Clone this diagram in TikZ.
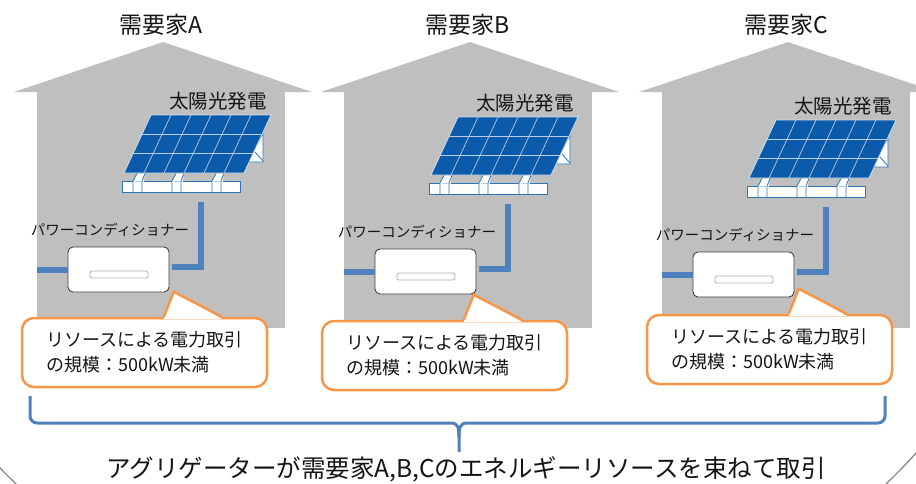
\documentclass[tikz,border=0pt]{standalone}
\usepackage{fontspec}
\setmainfont{Noto Sans CJK JP}
\usetikzlibrary{calc}

\definecolor{wallgray}{HTML}{BFBFBF}
\definecolor{cellblue}{HTML}{0C5AAA}
\definecolor{railblue}{HTML}{2E75B6}
\definecolor{pipeblue}{HTML}{4F81BD}
\definecolor{noteorange}{HTML}{F79646}
\definecolor{inkgray}{HTML}{141414}

\begin{document}
\begin{tikzpicture}[x=1pt, y=-1pt,
  house/.style    = { fill=wallgray },
  panel/.style    = { fill=cellblue, draw=white!80!cellblue, line width=0.8pt },
  cell/.style     = { draw=white!70!cellblue, line width=0.7pt },
  rail/.style     = { fill=white, draw=railblue, line width=0.8pt },
  pipe/.style     = { draw=pipeblue, line width=6pt },
  pcs/.style      = { draw=black!75, fill=white, rounded corners=5pt, line width=0.9pt,
                      minimum width=101pt, minimum height=45pt, inner sep=0pt },
  slot/.style     = { draw=black!30, fill=white, rounded corners=1.5pt, line width=0.8pt,
                      minimum width=58pt, minimum height=7pt, inner sep=0pt },
  note/.style     = { draw=noteorange, fill=white, line width=2.5pt, rounded corners=12pt,
                      minimum width=245pt, minimum height=69pt, inner sep=0pt, align=left,
                      text=inkgray, font=\fontsize{18}{25}\selectfont },
  pointer/.style  = { draw=noteorange, line width=2.5pt, line join=round },
  brace/.style    = { draw=pipeblue, line width=3pt },
  title/.style    = { text=inkgray, font=\fontsize{23}{23}\selectfont },
  pvlabel/.style  = { text=inkgray, font=\fontsize{19.5}{20}\selectfont },
  pcslabel/.style = { text=inkgray, font=\fontsize{14.5}{15}\selectfont }]

  \useasboundingbox (0,0) rectangle (916,483);

  \foreach \n/\dx/\dy/\nx/\ny in {A/0/0/0/0, B/307/2/300/3, C/625/5/625/-3} {
    \begin{scope}[shift={(\dx,0)}]
      \fill[house] (14,92) -- (163,42) -- (312,92) -- cycle;
      \fill[house] (37,91) rectangle (285,328);
      \node[title] (title-\n) at (161,25) {需要家\n};
      \coordinate (wall-\n) at (37,269);
    \end{scope}

    \begin{scope}[shift={(\dx,\dy)}]
      \node[pvlabel] (pv-\n) at (218,101) {太陽光発電};
      \filldraw[rail] (263,133) -- (263,162) -- (248,162) -- cycle;
      \draw[rail] (255,152) -- (263,161);
      \filldraw[panel] (151,115) -- (271,115) -- (244,173) -- (124,173) -- cycle;
      \foreach \i in {1,...,5}
        \draw[cell] (151+20*\i,115) -- (124+20*\i,173);
      \foreach \j in {1,2}
        \draw[cell] (151-9*\j,115+19.33*\j) -- (271-9*\j,115+19.33*\j);
      \draw[rail] (122,181) rectangle (240,192);
      \foreach \a in {133,172,212} {
        \fill[white] (\a,181.5) -- (\a+4,173.5) -- (\a+12,173.5) -- (\a+9,181.5) -- cycle;
        \draw[rail] (\a,192) -- (\a,181) -- (\a+4,173.5);
        \draw[rail] (\a+9,192) -- (\a+9,181) -- (\a+12,173.5);
      }

      \node[pcslabel] (pcslabel-\n) at (110,230) {パワーコンディショナー};
      \node[pcs] (pcs-\n) at (118.5,269.5) {};
      \node[slot] (slot-\n) at (119,274.5) {};
      \coordinate (riser-\n) at (201,202);
      \draw[pipe] (wall-\n |- pcs-\n.west) -- (pcs-\n.west);
      \draw[pipe] ([xshift=3pt,yshift=3pt]pcs-\n.east) -| (riser-\n);
    \end{scope}

    \begin{scope}[shift={(\nx,\ny)}]
      \node[note] (note-\n) at (144.5,352.5) {リソースによる電力取引\\の規模：500kW未満};
      \coordinate (tip-\n) at ($(note-\n.north west)+(153,-25)$);
      \fill[white] ($(note-\n.north west)+(143,2)$) -- (tip-\n) -- ($(note-\n.north west)+(201,2)$) -- cycle;
      \draw[pointer] ($(note-\n.north west)+(143,0)$) -- (tip-\n) -- ($(note-\n.north west)+(201,0)$);
    \end{scope}
  }

  \coordinate (brace-tip) at (459,452);
  \draw[brace, rounded corners=7pt] (30,396) -- (30,423) -- (451,423);
  \draw[brace] (451,423) .. controls (458,423) and (459,428) .. (459,437) -- (brace-tip);
  \draw[brace, rounded corners=7pt] (885,396) -- (885,423) -- (467,423);
  \draw[brace] (467,423) .. controls (460,423) and (459,428) .. (459,437);

  \node[text=inkgray, font=\fontsize{24.5}{25}\selectfont] (aggregator) at (466,469)
    {アグリゲーターが需要家A,B,Cのエネルギーリソースを束ねて取引};

  \begin{scope}
    \clip (0,0) rectangle (916,483);
    \draw[black!50, line width=1.2pt] (451,31) circle[radius=628pt];
  \end{scope}
\end{tikzpicture}
\end{document}
